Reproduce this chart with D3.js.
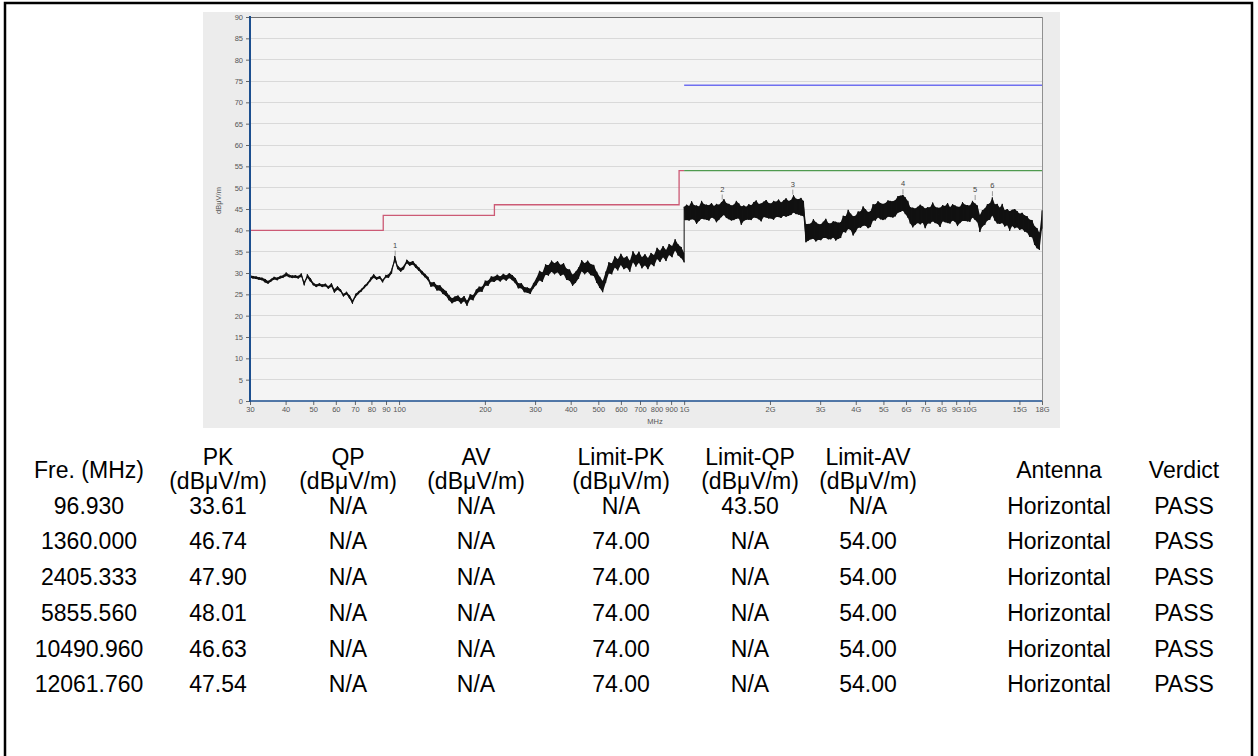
<!DOCTYPE html>
<html><head><meta charset="utf-8">
<script src="https://cdn.jsdelivr.net/npm/d3@7"></script>
<style>body{margin:0;background:#fff;} svg{display:block;}</style>
</head><body>
<svg id="c" width="1258" height="756"></svg>
<script>
// ---------- data ----------
const yTicks = [0,5,10,15,20,25,30,35,40,45,50,55,60,65,70,75,80,85,90];
const xTickValues = [30,40,50,60,70,80,90,100,200,300,400,500,600,700,800,900,1000,2000,3000,4000,5000,6000,7000,8000,9000,10000,15000,18000];
const xTickLabels = ["30","40","50","60","70","80","90","100","200","300","400","500","600","700","800","900","1G","2G","3G","4G","5G","6G","7G","8G","9G","10G","15G","18G"];

const limitQPFreq  = [30,88,88,216,216,960,960,1000];
const limitQPLevel = [40,40,43.5,43.5,46,46,54,54];
const limitAVFreq  = [1000,18000];
const limitAVLevel = [54,54];
const limitPKFreq  = [1000,18000];
const limitPKLevel = [74,74];

// sweep 1: 30 MHz - 1 GHz ; per-sample min / max of the trace (dBuV/m)
const sweep1Start = 30, sweep1Stop = 1000;
const sweep1Lo = [28.9,28.7,28.6,28.4,28.3,27.8,27.5,28.0,28.5,28.3,
 28.7,28.9,29.3,29.0,28.8,28.9,28.7,29.1,27.1,28.9,
 28.0,27.1,26.7,27.0,26.7,26.9,26.3,26.8,25.4,26.1,
 25.6,24.5,25.0,24.0,22.8,24.3,25.1,25.7,26.5,27.2,
 28.1,28.9,28.4,28.7,27.8,28.9,28.9,29.9,32.8,30.9,
 30.3,30.9,32.3,31.7,32.0,31.2,30.5,29.7,29.0,28.3,
 26.8,26.9,25.9,25.9,25.1,24.6,23.6,22.9,23.3,23.5,
 22.8,23.4,22.3,23.8,23.6,24.9,25.6,25.6,27.0,27.0,
 28.0,27.9,28.4,28.0,28.6,28.2,28.8,28.3,27.6,26.4,
 26.4,25.5,25.4,25.1,26.4,27.2,28.3,27.9,29.6,29.4,
 30.3,29.7,30.2,29.3,29.7,28.4,28.2,27.0,27.7,28.7,
 30.4,29.7,30.3,29.5,29.3,27.7,26.5,25.5,27.7,29.9,
 29.7,31.3,30.6,31.9,30.9,31.3,30.3,32.5,31.5,32.4,
 31.1,31.8,30.9,32.1,31.6,33.3,32.6,33.7,32.8,34.2,
 33.7,35.3,34.1,33.5,32.5];
const sweep1Hi = [29.5,29.3,29.2,29.0,28.9,28.6,28.1,28.6,29.1,28.9,
 29.3,29.5,30.1,29.6,29.4,29.5,29.3,29.9,27.9,29.7,
 28.8,27.7,27.3,27.6,27.3,27.5,26.9,27.6,26.2,26.9,
 26.2,25.1,25.6,24.8,23.6,25.1,25.7,26.3,27.1,27.8,
 28.9,29.7,29.0,29.3,28.4,29.5,29.7,30.9,34.0,31.7,
 31.1,31.7,33.1,32.5,32.8,32.0,31.3,30.5,29.8,29.1,
 27.8,27.9,27.1,27.1,26.3,25.8,24.8,24.1,24.5,24.7,
 24.0,24.6,23.5,25.0,24.8,26.1,26.8,26.8,28.2,28.2,
 29.2,29.1,29.6,29.2,29.8,29.4,30.0,29.5,28.8,27.6,
 27.6,26.7,26.6,26.3,27.6,28.8,30.5,30.1,32.0,31.8,
 32.9,32.3,32.8,31.9,32.3,31.0,30.8,29.6,30.3,31.3,
 33.0,32.3,32.9,32.1,31.9,30.3,29.1,28.1,30.3,32.5,
 32.3,33.9,33.2,34.5,33.5,33.9,32.9,35.1,34.1,35.0,
 33.7,34.4,33.5,34.7,34.2,35.9,35.2,36.3,35.4,36.8,
 36.3,37.9,36.7,36.1,34.7];

// sweep 2: 1 GHz - 18 GHz ; per-sample min / max
const sweep2Start = 1000, sweep2Stop = 18000;
const sweep2Lo = [42.3,42.4,42.3,42.6,42.5,41.5,42.2,42.7,42.6,42.5,
 42.3,43.0,42.8,41.9,42.5,43.1,43.6,42.9,42.6,42.3,
 42.4,42.7,42.8,41.3,42.2,42.5,42.5,42.4,43.0,42.9,
 42.6,42.1,43.1,43.0,42.8,42.8,42.5,43.1,43.1,42.9,
 43.4,43.2,43.4,43.6,44.2,43.8,43.7,43.5,43.3,37.2,
 37.6,37.9,38.0,37.4,37.8,37.7,38.2,38.2,37.9,37.9,
 38.3,37.6,38.0,38.2,39.6,39.5,40.3,40.1,38.8,39.6,
 40.6,40.6,41.1,41.1,40.5,40.8,42.3,42.3,43.0,42.6,
 42.4,42.6,43.2,43.1,43.0,43.3,44.1,44.3,44.6,43.8,
 43.0,41.6,40.7,41.3,41.7,41.4,41.8,40.5,41.6,41.6,
 42.1,41.7,41.5,40.8,42.1,41.9,41.7,41.6,42.3,42.0,
 41.0,41.7,42.2,42.2,42.1,42.0,43.0,42.5,41.9,39.6,
 40.9,41.3,42.3,42.5,43.5,42.3,41.6,41.5,41.7,40.9,
 41.2,39.9,41.0,40.5,40.7,40.1,40.3,39.7,39.5,38.5,
 38.4,36.6,35.8,35.4,40.5];
const sweep2Hi = [45.5,46.0,45.7,46.8,45.9,45.8,45.6,46.9,46.1,46.0,
 45.9,46.4,45.7,46.2,46.0,46.6,47.3,46.4,46.2,45.8,
 46.0,46.9,46.3,45.6,45.8,45.5,46.1,45.9,46.6,47.0,
 46.2,46.3,46.7,47.1,46.4,46.3,46.9,46.7,47.2,46.5,
 47.0,47.5,46.9,47.1,48.2,47.4,47.3,47.6,46.9,41.5,
 41.5,41.6,42.6,41.9,41.5,41.4,42.0,42.7,41.7,41.6,
 42.1,42.0,41.8,41.9,43.4,43.3,44.8,43.9,43.3,43.4,
 44.4,44.4,45.6,44.9,44.3,44.5,46.1,46.1,46.8,46.4,
 46.2,46.4,47.0,46.9,46.8,47.1,48.0,48.1,48.3,47.7,
 46.9,45.4,45.3,45.1,45.5,46.0,45.6,45.1,45.4,45.4,
 46.5,45.5,45.3,45.3,45.9,45.7,46.4,45.4,46.1,45.8,
 45.5,45.5,46.6,46.0,45.9,45.8,46.9,46.3,45.8,43.6,
 44.7,45.1,46.1,46.3,47.7,46.1,46.2,45.3,46.2,44.7,
 45.0,44.5,44.8,45.0,44.5,43.9,44.1,43.5,43.3,42.5,
 42.4,41.0,40.5,39.4,44.7];

// table
const tableHeaders = [["Fre. (MHz)"],["PK","(dBμV/m)"],["QP","(dBμV/m)"],["AV","(dBμV/m)"],["Limit-PK","(dBμV/m)"],["Limit-QP","(dBμV/m)"],["Limit-AV","(dBμV/m)"],["Antenna"],["Verdict"]];
const freqCol    = ["96.930","1360.000","2405.333","5855.560","10490.960","12061.760"];
const pkCol      = ["33.61","46.74","47.90","48.01","46.63","47.54"];
const qpCol      = ["N/A","N/A","N/A","N/A","N/A","N/A"];
const avCol      = ["N/A","N/A","N/A","N/A","N/A","N/A"];
const limPkCol   = ["N/A","74.00","74.00","74.00","74.00","74.00"];
const limQpCol   = ["43.50","N/A","N/A","N/A","N/A","N/A"];
const limAvCol   = ["N/A","54.00","54.00","54.00","54.00","54.00"];
const antennaCol = ["Horizontal","Horizontal","Horizontal","Horizontal","Horizontal","Horizontal"];
const verdictCol = ["PASS","PASS","PASS","PASS","PASS","PASS"];

// ---------- drawing ----------
const svg = d3.select("#c");
const W = 1258, H = 756;
const font = "Arial, 'Liberation Sans', sans-serif";
svg.append("rect").attr("x",0).attr("y",0).attr("width",W).attr("height",H).attr("fill","#fff");

// chart image frame
const img = {x:203, y:12, w:857, h:416};
svg.append("rect").attr("x",img.x).attr("y",img.y).attr("width",img.w).attr("height",img.h).attr("fill","#ececec");
const plot = {l:250, r:1042, t:17, b:401};
const x = d3.scaleLog().domain([30,18000]).range([plot.l, plot.r]);
const y = d3.scaleLinear().domain([0,90]).range([plot.b, plot.t]);

svg.append("rect").attr("x",plot.l).attr("y",plot.t).attr("width",plot.r-plot.l).attr("height",plot.b-plot.t).attr("fill","#f4f4f4");

// grid
svg.append("g").selectAll("line").data(yTicks.filter(d=>d>0&&d<90)).join("line")
  .attr("x1",plot.l).attr("x2",plot.r).attr("y1",d=>y(d)).attr("y2",d=>y(d))
  .attr("stroke","#d9d9d9").attr("stroke-width",1).attr("shape-rendering","crispEdges");

// frame top/right
svg.append("line").attr("x1",plot.l).attr("x2",plot.r).attr("y1",plot.t).attr("y2",plot.t).attr("stroke","#707070").attr("stroke-width",1).attr("shape-rendering","crispEdges");
svg.append("line").attr("x1",plot.r).attr("x2",plot.r).attr("y1",plot.t).attr("y2",plot.b).attr("stroke","#909090").attr("stroke-width",1).attr("shape-rendering","crispEdges");

const lineGen = d3.line().x(d=>x(d[0])).y(d=>y(d[1]));
function drawLimit(fs, ls, color){
  svg.append("path").datum(fs.map((f,i)=>[f,ls[i]])).attr("d",lineGen)
    .attr("fill","none").attr("stroke",color).attr("stroke-width",1.3);
}
drawLimit(limitQPFreq, limitQPLevel, "#cc5a75");
drawLimit(limitAVFreq, limitAVLevel, "#4f9a4f");
drawLimit(limitPKFreq, limitPKLevel, "#6f6ff0");

// trace: band between each sample's min and max, plus the sample-to-sample stroke
function sweepSamples(start, stop, lo, hi){
  const n = lo.length;
  return lo.map((v,i)=>({f:start*Math.pow(stop/start, i/(n-1)), lo:v, hi:hi[i]}));
}
const samples = sweepSamples(sweep1Start, sweep1Stop, sweep1Lo, sweep1Hi)
  .concat(sweepSamples(sweep2Start, sweep2Stop, sweep2Lo, sweep2Hi));
const areaGen = d3.area().x(d=>x(d.f)).y0(d=>y(d.lo)).y1(d=>y(d.hi));
svg.append("path").datum(samples).attr("d",areaGen).attr("fill","#111").attr("stroke","none");
const tracePts = [];
samples.forEach(s=>{ tracePts.push([s.f,s.lo]); tracePts.push([s.f,s.hi]); });
svg.append("path").datum(tracePts).attr("d",lineGen)
  .attr("fill","none").attr("stroke","#111").attr("stroke-width",1).attr("stroke-linejoin","round");

// axes
const yAxis = d3.axisLeft(y).tickValues(yTicks).tickSize(4).tickPadding(3);
const gy = svg.append("g").attr("transform",`translate(${plot.l},0)`).call(yAxis);
gy.select(".domain").remove();
gy.selectAll("text").attr("font-family",font).attr("font-size",7.5).attr("fill","#555");
gy.selectAll("line").attr("stroke","#666");

const xAxis = d3.axisBottom(x).tickValues(xTickValues).tickFormat((d,i)=>xTickLabels[i]).tickSize(4).tickPadding(2);
const gx = svg.append("g").attr("transform",`translate(0,${plot.b})`).call(xAxis);
gx.select(".domain").remove();
gx.selectAll("text").attr("font-family",font).attr("font-size",7.5).attr("fill","#555");
gx.selectAll("line").attr("stroke","#666");

svg.append("line").attr("x1",plot.l).attr("x2",plot.l).attr("y1",plot.t-1).attr("y2",plot.b+1).attr("stroke","#1c4f8f").attr("stroke-width",2);
svg.append("line").attr("x1",plot.l).attr("x2",plot.r).attr("y1",plot.b).attr("y2",plot.b).attr("stroke","#1c4f8f").attr("stroke-width",1.5);

svg.append("text").attr("x",x(790)).attr("y",plot.b+23).attr("text-anchor","middle")
  .attr("font-family",font).attr("font-size",7.5).attr("fill","#555").text("MHz");
svg.append("text").attr("transform",`translate(221,${y(47)}) rotate(-90)`).attr("text-anchor","middle")
  .attr("font-family",font).attr("font-size",7.5).attr("fill","#555").text("dBμV/m");

// markers
const markerFreq = freqCol.map(Number);
const markerLevel = pkCol.map(Number);
const mk = svg.append("g").selectAll("g").data(markerFreq.map((f,i)=>({f, l:markerLevel[i], n:i+1}))).join("g");
mk.append("line").attr("x1",d=>x(d.f)).attr("x2",d=>x(d.f)).attr("y1",d=>y(d.l)-2).attr("y2",d=>y(d.l)-7).attr("stroke","#999");
mk.append("text").attr("x",d=>x(d.f)).attr("y",d=>y(d.l)-10).attr("text-anchor","middle")
  .attr("font-family",font).attr("font-size",7.5).attr("fill","#444").text(d=>d.n);

// table
const colX = [89,218,348,476,621,750,868,1059,1184];
const fs = 23;
const tg = svg.append("g").attr("font-family",font).attr("font-size",fs).attr("fill","#000").attr("text-anchor","middle");
tableHeaders.forEach((h,i)=>{
  if(h.length===1){
    tg.append("text").attr("x",colX[i]).attr("y",470).attr("dy","0.35em").text(h[0]);
  } else {
    tg.append("text").attr("x",colX[i]).attr("y",457).attr("dy","0.35em").text(h[0]);
    tg.append("text").attr("x",colX[i]).attr("y",481).attr("dy","0.35em").text(h[1]);
  }
});
const cols = [freqCol,pkCol,qpCol,avCol,limPkCol,limQpCol,limAvCol,antennaCol,verdictCol];
const rowY = [506,541,577,613,649,684];
cols.forEach((c,ci)=>{
  c.forEach((v,ri)=>{
    tg.append("text").attr("x",colX[ci]).attr("y",rowY[ri]).attr("dy","0.35em").text(v);
  });
});

// outer border
svg.append("path").attr("d",`M5,${H+5} L5,3 L1252,3 L1252,${H+5}`).attr("fill","none").attr("stroke","#000").attr("stroke-width",2.5);
</script>
</body></html>
